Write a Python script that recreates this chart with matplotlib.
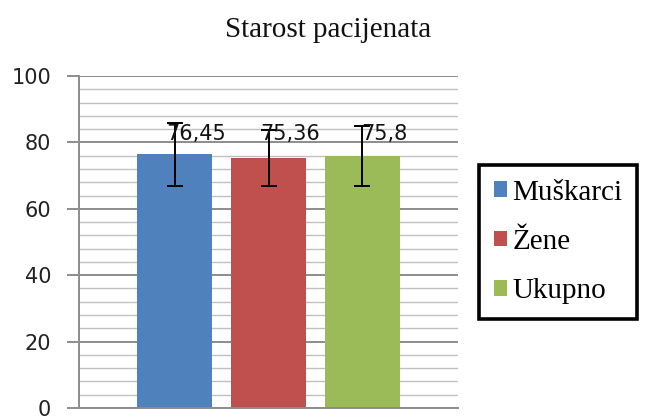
import matplotlib
matplotlib.use("Agg")
import matplotlib.pyplot as plt
from matplotlib.patches import Patch
from matplotlib.ticker import MultipleLocator

series = ["Muškarci", "Žene", "Ukupno"]
values = [76.45, 75.36, 75.8]
errors = [9.5, 8.5, 9.0]
labels = ["76,45", "75,36", "75,8"]
colors = ["#4F81BD", "#C0504D", "#9BBB59"]
yticks = [0, 20, 40, 60, 80, 100]
title = "Starost pacijenata"

fig = plt.figure(figsize=(6.49, 4.16), dpi=100)
ax = fig.add_axes([79/649, 1-408/416, (458-79)/649, (408-76)/416])

x = list(range(len(series)))
ax.bar(x, values, width=0.8, color=colors, zorder=3)
ax.errorbar(x, values, yerr=errors, fmt="none", ecolor="black",
            elinewidth=1.4, capsize=6, capthick=1.4, zorder=4)
for xi, v, lab in zip(x, values, labels):
    ax.text(xi + 0.23, 82.6, lab, ha="center", va="center",
            fontsize=15, family="DejaVu Sans", color="#111111", zorder=5)

ax.set_xlim(-1.02, 3.02)
ax.set_ylim(0, 100)
ax.set_yticks(yticks)
ax.yaxis.set_minor_locator(MultipleLocator(4))
ax.set_xticks([])
ax.grid(axis="y", which="major", color="#8c8c8c", linewidth=1.4, zorder=0)
ax.grid(axis="y", which="minor", color="#c0c0c0", linewidth=1.0, zorder=0)
ax.tick_params(axis="y", which="major", direction="out", length=9, width=1.4,
               color="#8c8c8c", labelsize=15, labelcolor="#222222", pad=11)
ax.tick_params(axis="y", which="minor", length=0)
for s in ["top", "right"]:
    ax.spines[s].set_visible(False)
for s in ["left", "bottom"]:
    ax.spines[s].set_color("#8c8c8c")
    ax.spines[s].set_linewidth(1.4)
ax.spines["bottom"].set_zorder(6)
ax.set_axisbelow(True)

fig.text(328/649, 1-37/416, title, ha="center", va="baseline",
         fontsize=21, family="Liberation Serif", color="#111111")

handles = [Patch(facecolor=c, edgecolor="none") for c in colors]
leg = fig.legend(handles, series, loc="upper left",
                 bbox_to_anchor=(479/649, 1-165/416),
                 prop={"family": "Liberation Serif", "size": 21},
                 handlelength=0.45, handleheight=0.45, handletextpad=0.2,
                 labelspacing=0.8, borderpad=0.5, borderaxespad=0,
                 fancybox=False, framealpha=1, edgecolor="black")
leg.get_frame().set_linewidth(2.6)

fig.savefig("out.png", dpi=100)
